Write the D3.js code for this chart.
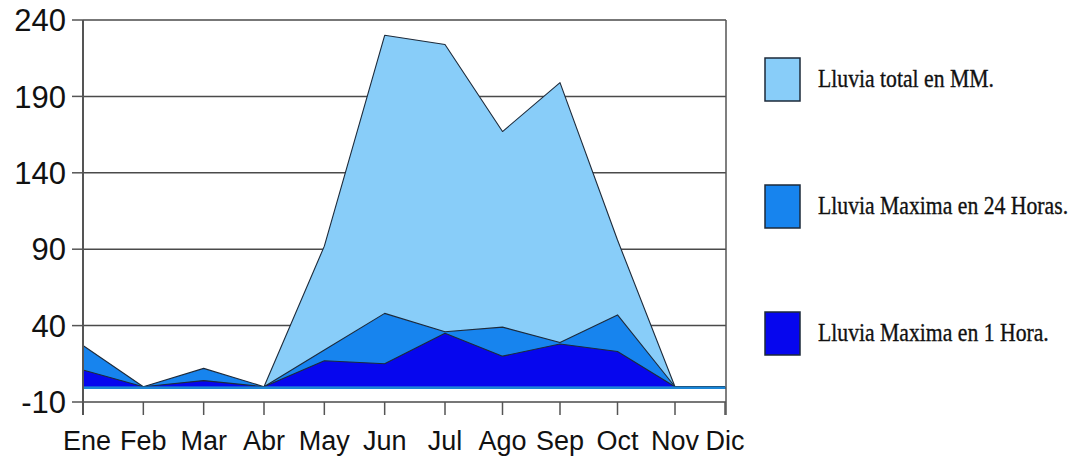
<!DOCTYPE html>
<html>
<head>
<meta charset="utf-8">
<script src="https://cdn.jsdelivr.net/npm/d3@7"></script>
<style>
  html, body { margin: 0; padding: 0; background: #fff; }
  svg { display: block; }
</style>
</head>
<body>
<svg id="chart" width="1078" height="457"></svg>
<script>
// Monthly rainfall (mm)
const months = ["Ene", "Feb", "Mar", "Abr", "May", "Jun", "Jul", "Ago", "Sep", "Oct", "Nov", "Dic"];
const lluviaTotal = [0, 0, 0, 0, 92, 230, 224, 167, 199, 96, 0, 0];
const lluviaMax24h = [27, 0, 12, 0, 24, 48, 36, 39, 29, 47, 0, 0];
const lluviaMax1h = [11, 0, 4, 0, 17, 15, 35, 20, 28, 23, 0, 0];
const yTicks = [-10, 40, 90, 140, 190, 240];

const seriesNames = ["Lluvia total en MM.", "Lluvia Maxima en 24 Horas.", "Lluvia Maxima en 1 Hora."];
const seriesValues = [lluviaTotal, lluviaMax24h, lluviaMax1h];
const seriesColors = ["#88cdf9", "#1784ee", "#0606ee"];

const svg = d3.select("#chart");

// month index -> x; the month spacing narrows slightly toward the end of the year
const x = d3.scaleLinear().domain([0, 6, 10, 11]).range([83, 445, 675, 725]);
const y = d3.scaleLinear().domain([-10, 240]).range([402, 20]);
const plotLeft = 83, plotRight = 726, plotTop = y(240), plotBottom = y(-10);

// horizontal grid lines at each y tick
svg.append("g")
  .selectAll("line")
  .data(yTicks)
  .join("line")
  .attr("x1", plotLeft).attr("x2", plotRight)
  .attr("y1", d => y(d)).attr("y2", d => y(d))
  .attr("stroke", "#4a4a4a").attr("stroke-width", 1.5);

// areas, largest series first so the smaller ones sit on top
const area = d3.area()
  .x((d, i) => x(i))
  .y0(y(0))
  .y1(d => y(d));
const line = d3.line()
  .x((d, i) => x(i))
  .y(d => y(d));

seriesValues.forEach((vals, k) => {
  svg.append("path")
    .datum(vals)
    .attr("d", area)
    .attr("fill", seriesColors[k]);
  svg.append("path")
    .datum(vals)
    .attr("d", line)
    .attr("fill", "none")
    .attr("stroke", "#1d2a3a")
    .attr("stroke-width", 1.1)
    .attr("stroke-linejoin", "round");
});

// zero line along the bottom of the areas
svg.append("line")
  .attr("x1", plotLeft).attr("x2", plotRight)
  .attr("y1", y(0) + 1).attr("y2", y(0) + 1)
  .attr("stroke", "#1b86d6").attr("stroke-width", 2.5);

// left axis line and right frame
svg.append("line")
  .attr("x1", plotLeft).attr("x2", plotLeft)
  .attr("y1", plotTop).attr("y2", plotBottom + 13)
  .attr("stroke", "#555").attr("stroke-width", 2);
svg.append("line")
  .attr("x1", plotRight).attr("x2", plotRight)
  .attr("y1", plotTop).attr("y2", plotBottom + 13)
  .attr("stroke", "#555").attr("stroke-width", 1.5);

// y ticks and labels
const yAxis = svg.append("g");
yAxis.selectAll("line")
  .data(yTicks)
  .join("line")
  .attr("x1", plotLeft - 11).attr("x2", plotLeft)
  .attr("y1", d => y(d)).attr("y2", d => y(d))
  .attr("stroke", "#555").attr("stroke-width", 1.5);
yAxis.selectAll("text")
  .data(yTicks)
  .join("text")
  .attr("x", 66)
  .attr("y", d => y(d))
  .attr("dy", "0.36em")
  .attr("text-anchor", "end")
  .attr("font-family", "'Liberation Sans', Arial, sans-serif")
  .attr("font-size", 31)
  .attr("fill", "#111")
  .text(d => d);

// x ticks and month labels
const xAxis = svg.append("g");
xAxis.selectAll("line")
  .data(months)
  .join("line")
  .attr("x1", (d, i) => x(i)).attr("x2", (d, i) => x(i))
  .attr("y1", plotBottom).attr("y2", plotBottom + 13)
  .attr("stroke", "#555").attr("stroke-width", 1.5);
xAxis.selectAll("text")
  .data(months)
  .join("text")
  .attr("x", (d, i) => x(i) + (i === 0 ? 4 : 0))
  .attr("y", 450)
  .attr("text-anchor", "middle")
  .attr("font-family", "'Liberation Sans', Arial, sans-serif")
  .attr("font-size", 27)
  .attr("fill", "#111")
  .text(d => d);

// legend
const legendY = [58, 185, 312];
const legend = svg.append("g")
  .selectAll("g")
  .data(seriesNames)
  .join("g")
  .attr("transform", (d, i) => `translate(765,${legendY[i]})`);
legend.append("rect")
  .attr("width", 35).attr("height", 43)
  .attr("fill", (d, i) => seriesColors[i])
  .attr("stroke", "#1d2a3a").attr("stroke-width", 1.5);
legend.append("text")
  .attr("transform", "translate(53,29) scale(0.835,1)")
  .attr("font-family", "'Liberation Serif', 'Times New Roman', serif")
  .attr("font-size", 26)
  .attr("fill", "#111")
  .attr("stroke", "#111")
  .attr("stroke-width", 0.35)
  .text(d => d);
</script>
</body>
</html>
